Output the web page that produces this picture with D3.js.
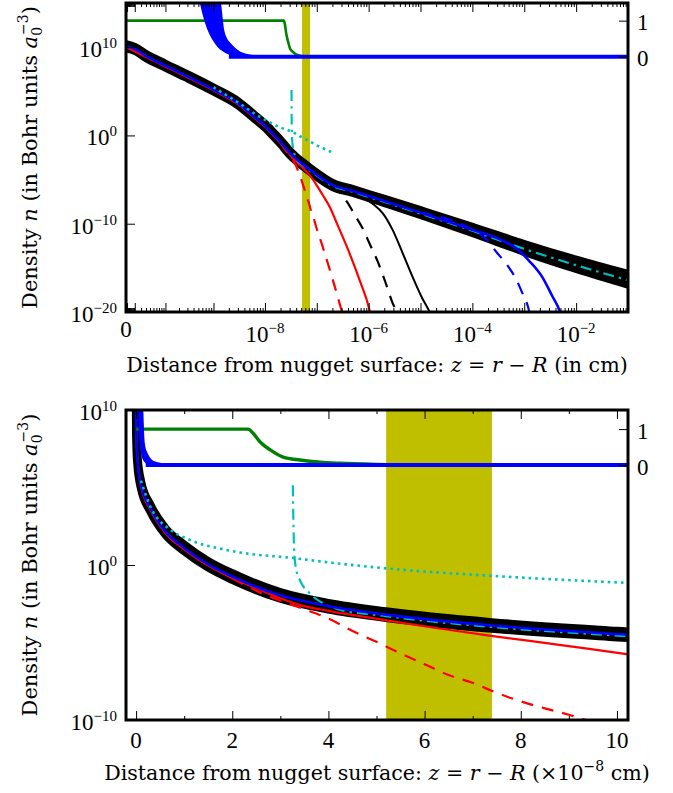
<!DOCTYPE html>
<html>
<head>
<meta charset="utf-8">
<script src="https://cdn.jsdelivr.net/npm/d3@7.9.0/dist/d3.min.js"></script>
<style>
  body { margin: 0; background: #fff; }
  svg { font-family: "Liberation Serif", "Times New Roman", serif; }
  text { white-space: pre; }
  .title { font-family: "DejaVu Serif", serif; }
</style>
</head>
<body>
<svg id="chart" width="673" height="793"></svg>
<script>
// z in cm, n in Bohr units a0^-3
const totalDensity = [
  [0, 1.26e10], [1e-11, 6.3e9], [3e-11, 1e9], [1e-10, 7.9e7], [3e-10, 5e6],
  [1e-9, 1.6e5], [3e-9, 4.5e3], [6e-9, 160], [1e-8, 12.6], [1.5e-8, 1.1],
  [2e-8, 0.18], [3e-8, 1.1e-2], [4e-8, 2.2e-3], [5.2e-8, 6.3e-4], [7.4e-8, 1.26e-4],
  [1e-7, 3.5e-5], [2e-7, 2.5e-6], [5e-7, 5e-7], [1e-6, 1.4e-7], [1e-5, 1.8e-9],
  [1e-4, 2e-11], [1e-3, 1.8e-13], [1e-2, 2.5e-15], [1e-1, 5e-17]
];
// multiplicative half-width of the black band
const totalSpread = [
  1.58, 1.58, 1.58, 1.58, 1.58, 1.58, 1.58, 1.58, 1.58, 1.58,
  1.58, 1.58, 1.58, 1.58, 1.58, 1.58, 1.58, 1.58, 1.58, 1.78,
  2.14, 2.63, 3.16, 3.8
];

const blueSolid = [
  [0, 1.26e10], [1e-11, 6.3e9], [3e-11, 1e9], [1e-10, 7.9e7], [3e-10, 5e6],
  [1e-9, 1.6e5], [3e-9, 4.5e3], [6e-9, 160], [1e-8, 12.6], [1.5e-8, 1.1],
  [2e-8, 0.18], [3e-8, 1.1e-2], [4e-8, 2.2e-3], [5.2e-8, 6.3e-4], [7.4e-8, 1.26e-4],
  [1e-7, 3.5e-5], [2e-7, 2.5e-6], [5e-7, 5e-7], [1e-6, 1.4e-7], [1e-5, 1.8e-9],
  [1e-4, 2e-11], [4e-4, 1.1e-12], [7e-4, 1.6e-13], [1.24e-3, 6.3e-15], [2.2e-3, 1e-16],
  [3.4e-3, 7.9e-19], [4.9e-3, 1e-20], [5.5e-3, 1e-21]
];
const blueDashed = [
  [1e-5, 1.8e-9], [1e-4, 2e-11], [1.87e-4, 1.6e-12], [2.9e-4, 6.3e-14], [4.7e-4, 2e-15],
  [7e-4, 5e-17], [8.8e-4, 2.5e-18], [1.24e-3, 1.26e-20], [1.35e-3, 1e-21]
];
const redSolid = [
  [0, 1e10], [1e-10, 6.3e7], [1e-9, 1.26e5], [3e-9, 3.5e3], [6e-9, 126],
  [1e-8, 10], [2e-8, 0.14], [2.5e-8, 3.2e-2], [3e-8, 7.1e-3], [3.41e-8, 2.6e-3],
  [4e-8, 1.1e-3], [5.17e-8, 2.8e-4], [6.2e-8, 8.9e-5], [7.42e-8, 2.6e-5], [8.8e-8, 7.1e-6],
  [1.02e-7, 1.8e-6], [1.3e-7, 1.8e-7], [1.78e-7, 7.9e-9], [2.5e-7, 7.9e-11], [3.8e-7, 2.5e-13],
  [6.7e-7, 4e-17], [1.04e-6, 1.6e-20], [1.15e-6, 1e-21]
];
const redDashed = [
  [2e-8, 0.14], [2.5e-8, 2.2e-2], [3e-8, 5e-3], [3.5e-8, 1.4e-3], [4e-8, 3.5e-4],
  [4.5e-8, 5.6e-5], [5e-8, 1.1e-5], [5.5e-8, 2e-6], [6e-8, 4e-7], [6.5e-8, 7.9e-8],
  [7e-8, 2.5e-8], [7.5e-8, 5.6e-9], [8e-8, 1.6e-9], [8.5e-8, 5.6e-10], [9e-8, 2.2e-10],
  [9.5e-8, 7.1e-11], [1.3e-7, 2.5e-13], [2e-7, 6.3e-17], [3.2e-7, 4e-21]
];
const blackSolid = [
  [2e-7, 2.5e-6], [5e-7, 4e-7], [9.1e-7, 5e-8], [1.3e-6, 1.26e-8], [1.86e-6, 1.6e-9],
  [2.9e-6, 2e-11], [4.5e-6, 5e-14], [7e-6, 1e-16], [1.05e-5, 5e-19], [1.5e-5, 1e-20],
  [1.8e-5, 1e-21]
];
const blackDashed = [
  [2e-7, 2.5e-6], [2.44e-7, 7.9e-7], [3.8e-7, 3.2e-8], [5.4e-7, 1e-9], [7.6e-7, 3.2e-11],
  [1.05e-6, 5e-13], [1.5e-6, 5e-15], [2.1e-6, 2.5e-17], [2.9e-6, 1e-19], [3.7e-6, 5e-21],
  [4e-6, 1e-21]
];
const cyanDashDot = [
  [3.26e-8, 1.4e5], [3.27e-8, 1e3], [3.29e-8, 6.3], [3.33e-8, 0.5], [3.41e-8, 0.1],
  [3.62e-8, 1.4e-2], [3.9e-8, 3.2e-3], [4.2e-8, 1.4e-3], [5.2e-8, 5e-4], [7.4e-8, 1e-4],
  [1e-7, 2.8e-5], [2e-7, 2e-6], [5e-7, 4e-7], [1e-6, 1.1e-7], [1e-5, 1.4e-9],
  [1e-4, 1.6e-11], [1e-3, 1.4e-13], [1e-2, 2e-15], [1e-1, 4e-17]
];
const cyanDotted = [
  [1e-9, 2.8e5], [3e-9, 5.6e3], [7e-9, 200], [1.06e-8, 50], [2e-8, 7.9],
  [3.26e-8, 2.8], [4.2e-8, 1.26], [5.5e-8, 0.5], [7.4e-8, 0.2], [1.02e-7, 7.1e-2],
  [1.5e-7, 2.5e-2], [2.2e-7, 8.9e-3]
];

// right-hand axis (fraction, 0..1)
const greenFraction = [
  [0, 1], [1e-8, 1], [2.33e-8, 1], [2.43e-8, 0.89], [2.58e-8, 0.64],
  [2.79e-8, 0.42], [3.06e-8, 0.22], [3.41e-8, 0.14], [3.83e-8, 0.08], [4.24e-8, 0.05],
  [5e-8, 0.02], [6e-8, 0.006], [8e-8, 0], [1e-1, 0]
];
// [z, lower fraction, upper fraction]
const blueFractionBand = [
  [4.5e-10, 2.2, 5], [5.6e-10, 1.47, 4], [7.0e-10, 0.95, 3.2], [8.75e-10, 0.6, 2.5],
  [1.09e-9, 0.38, 2.0], [1.36e-9, 0.22, 1.47], [1.56e-9, 0.16, 0.75], [1.78e-9, 0.11, 0.5],
  [2.12e-9, 0.06, 0.36], [2.65e-9, 0.03, 0.22], [3.31e-9, 0.01, 0.12], [4.12e-9, 0, 0.07],
  [5.15e-9, 0, 0.04], [6.4e-9, 0, 0.02], [8.0e-9, 0, 0.01], [1.25e-8, 0, 0]
];
const blueFractionZero = [[2e-9, 0], [1e-1, 0]];

const shadedRange = [5.2e-8, 7.4e-8];

const topXLabels = [
  { v: 0, base: '0' }, { v: 1e-8, base: '10', exp: '−8' }, { v: 1e-6, base: '10', exp: '−6' },
  { v: 1e-4, base: '10', exp: '−4' }, { v: 1e-2, base: '10', exp: '−2' }
];
const topYLabels = [
  { v: 1e10, exp: '10' }, { v: 1, exp: '0' }, { v: 1e-10, exp: '−10' }, { v: 1e-20, exp: '−20' }
];
const bottomXLabels = [0, 2, 4, 6, 8, 10];
const bottomXMinor = [1, 3, 5, 7, 9];
const bottomYLabels = [
  { v: 1e10, exp: '10' }, { v: 1, exp: '0' }, { v: 1e-10, exp: '−10' }
];
const fractionLabels = [0, 1];

const SUP = 15;
const svg = d3.select('#chart');

const densityLines = [
  { data: redSolid, color: '#ff0000', width: 2.2 },
  { data: redDashed, color: '#ff0000', width: 2.2, dash: '12,9' },
  { data: blackSolid, color: '#000', width: 2 },
  { data: blackDashed, color: '#000', width: 2.2, dash: '12,9' },
  { data: blueDashed, color: '#0000ff', width: 2.2, dash: '12,9' },
  { data: cyanDashDot, color: '#00bfbf', width: 2.2, dash: '11,5,2.5,5' },
  { data: blueSolid, color: '#0000ff', width: 2.6 },
  { data: cyanDotted, color: '#00bfbf', width: 2.6, dash: '2.6,4' }
];

const panels = [
  {
    id: 'top', left: 126, right: 628, top: 3, bottom: 312, unit: 1,
    x: d3.scaleSymlog().constant(2.1e-11).domain([0, 0.1]),
    y: d3.scaleLog().domain([1e-20, 1e15]),
    yR: d3.scaleLinear().domain([-7.09, 1.49]),
    xMajor: d3.range(-13, 0).map((e) => Math.pow(10, e)).concat([0]),
    xMinor: d3.range(-13, -1).flatMap((e) => d3.range(2, 10).map((k) => k * Math.pow(10, e))),
    zMax: Infinity
  },
  {
    id: 'bottom', left: 126, right: 628, top: 410, bottom: 720, unit: 1e8,
    x: d3.scaleLinear().domain([-0.21, 10.23]),
    y: d3.scaleLog().domain([1e-10, 1e10]),
    yR: d3.scaleLinear().domain([-7.08, 1.53]),
    xMajor: bottomXLabels,
    xMinor: bottomXMinor,
    zMax: 10.23
  }
];

function trim(data, p) {
  if (p.zMax === Infinity) return data;
  const i = data.findIndex((d) => d[0] * p.unit > p.zMax);
  return i < 0 ? data : data.slice(0, i + 1);
}

function powText(sel, base, exp) {
  sel.append('tspan').text(base);
  if (exp) sel.append('tspan').attr('dy', -9).attr('font-size', SUP).text(exp);
}

panels.forEach((p) => {
  p.x.range([p.left, p.right]);
  p.y.range([p.bottom, p.top]);
  p.yR.range([p.bottom, p.top]);
  const X = (d) => p.x(d[0] * p.unit);

  svg.append('clipPath').attr('id', 'clip-' + p.id)
    .append('rect')
    .attr('x', p.left).attr('y', p.top)
    .attr('width', p.right - p.left).attr('height', p.bottom - p.top);

  const plot = svg.append('g').attr('clip-path', `url(#clip-${p.id})`);

  plot.append('rect')
    .attr('x', p.x(shadedRange[0] * p.unit))
    .attr('y', p.top)
    .attr('width', p.x(shadedRange[1] * p.unit) - p.x(shadedRange[0] * p.unit))
    .attr('height', p.bottom - p.top)
    .attr('fill', '#bfbf00');

  const band = trim(totalDensity.map((d, i) => [d[0], d[1], totalSpread[i]]), p);
  plot.append('path')
    .attr('d', d3.area()
      .x(X)
      .y0((d) => p.y(d[1] / d[2]))
      .y1((d) => p.y(d[1] * d[2]))
      .curve(d3.curveMonotoneX)(band))
    .attr('fill', '#000')
    .attr('stroke', '#000')
    .attr('stroke-width', 8.5)
    .attr('stroke-linejoin', 'round');

  const line = d3.line().x(X).y((d) => p.y(d[1])).curve(d3.curveMonotoneX);
  densityLines.forEach((s) => {
    plot.append('path')
      .attr('d', line(trim(s.data, p)))
      .attr('fill', 'none')
      .attr('stroke', s.color)
      .attr('stroke-width', s.width)
      .attr('stroke-dasharray', s.dash || null);
  });

  const fLine = d3.line().x(X).y((d) => p.yR(d[1])).curve(d3.curveMonotoneX);
  plot.append('path')
    .attr('d', fLine(trim(greenFraction, p)))
    .attr('fill', 'none')
    .attr('stroke', '#008000')
    .attr('stroke-width', p.id === 'top' ? 2.6 : 3.4);

  plot.append('path')
    .attr('d', d3.area()
      .x(X)
      .y0((d) => p.yR(d[1]))
      .y1((d) => p.yR(d[2]))
      .curve(d3.curveMonotoneX)(blueFractionBand))
    .attr('fill', '#0000ff')
    .attr('stroke', '#0000ff')
    .attr('stroke-width', 1.5);

  plot.append('path')
    .attr('d', fLine(trim(blueFractionZero, p)))
    .attr('fill', 'none')
    .attr('stroke', '#0000ff')
    .attr('stroke-width', 4);

  // ticks
  const tickStyle = (g) => {
    g.select('.domain').remove();
    g.selectAll('line').attr('stroke', '#000').attr('stroke-width', 1);
  };
  [[d3.axisBottom, p.bottom], [d3.axisTop, p.top]].forEach(([ax, y]) => {
    svg.append('g').attr('transform', `translate(0,${y})`)
      .call(ax(p.x).tickValues(p.xMajor).tickSize(-9).tickFormat(''))
      .call(tickStyle);
    svg.append('g').attr('transform', `translate(0,${y})`)
      .call(ax(p.x).tickValues(p.xMinor).tickSize(-4).tickFormat(''))
      .call(tickStyle);
  });
  const yLabs = p.id === 'top' ? topYLabels : bottomYLabels;
  svg.append('g').attr('transform', `translate(${p.left},0)`)
    .call(d3.axisLeft(p.y).tickValues(yLabs.map((d) => d.v)).tickSize(-9).tickFormat(''))
    .call(tickStyle);
  svg.append('g').attr('transform', `translate(${p.right},0)`)
    .call(d3.axisRight(p.yR).tickValues(fractionLabels).tickSize(-9).tickFormat(''))
    .call(tickStyle);

  svg.append('rect')
    .attr('x', p.left).attr('y', p.top)
    .attr('width', p.right - p.left).attr('height', p.bottom - p.top)
    .attr('fill', 'none').attr('stroke', '#000').attr('stroke-width', 3);

  // tick labels
  const labels = svg.append('g').attr('font-size', 23).attr('fill', '#000');
  if (p.id === 'top') {
    topXLabels.forEach((d) => {
      const t = labels.append('text')
        .attr('x', p.x(d.v)).attr('y', d.exp ? p.bottom + 30 : p.bottom + 25)
        .attr('text-anchor', 'middle');
      powText(t, d.base, d.exp);
    });
  } else {
    bottomXLabels.forEach((v) => {
      labels.append('text')
        .attr('x', p.x(v)).attr('y', p.bottom + 28)
        .attr('text-anchor', 'middle').text(v);
    });
  }
  yLabs.forEach((d) => {
    const t = labels.append('text')
      .attr('x', p.left - 9).attr('y', p.y(d.v) + 10)
      .attr('text-anchor', 'end');
    powText(t, '10', d.exp);
  });
  fractionLabels.forEach((v) => {
    labels.append('text')
      .attr('x', p.right + 9).attr('y', p.yR(v) + 9.5)
      .text(v);
  });

  // axis titles
  const xt = svg.append('text').attr('class', 'title').attr('font-size', 20.6)
    .attr('x', (p.left + p.right) / 2)
    .attr('y', p.id === 'top' ? 372 : 780)
    .attr('text-anchor', 'middle');
  xt.append('tspan').text('Distance from nugget surface: ');
  xt.append('tspan').attr('font-style', 'italic').text('z');
  xt.append('tspan').text(' = ');
  xt.append('tspan').attr('font-style', 'italic').text('r');
  xt.append('tspan').text(' − ');
  xt.append('tspan').attr('font-style', 'italic').text('R');
  if (p.id === 'top') {
    xt.append('tspan').text(' (in cm)');
  } else {
    xt.append('tspan').text(' (×10');
    xt.append('tspan').attr('font-size', 14).attr('dy', -9).text('−8');
    xt.append('tspan').attr('dy', 9).text(' cm)');
  }

  const cy = (p.top + p.bottom) / 2;
  const yt = svg.append('text').attr('class', 'title').attr('font-size', 21)
    .attr('transform', `translate(37,${cy}) rotate(-90)`)
    .attr('text-anchor', 'middle');
  yt.append('tspan').text('Density ');
  yt.append('tspan').attr('font-style', 'italic').text('n');
  yt.append('tspan').text(' (in Bohr units ');
  yt.append('tspan').attr('font-style', 'italic').text('a');
  yt.append('tspan').attr('font-size', 14).attr('dy', 5).text('0');
  yt.append('tspan').attr('font-size', 14).attr('dx', -8).attr('dy', -14).text('−3');
  yt.append('tspan').attr('dy', 9).text(')');
});
</script>
</body>
</html>
